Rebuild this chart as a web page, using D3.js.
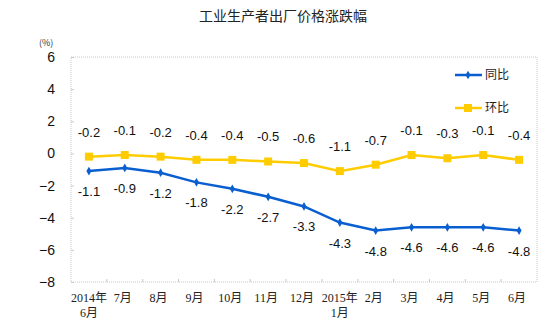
<!DOCTYPE html>
<html><head><meta charset="utf-8">
<script src="https://cdn.jsdelivr.net/npm/d3@7"></script>
<style>body{margin:0;background:#fff;}svg{display:block;}</style>
</head><body>
<svg id="c" width="554" height="324"></svg>
<script>
const categories = ["2014年|6月","7月","8月","9月","10月","11月","12月","2015年|1月","2月","3月","4月","5月","6月"];
const yoy = [-1.1,-0.9,-1.2,-1.8,-2.2,-2.7,-3.3,-4.3,-4.8,-4.6,-4.6,-4.6,-4.8];
const mom = [-0.2,-0.1,-0.2,-0.4,-0.4,-0.5,-0.6,-1.1,-0.7,-0.1,-0.3,-0.1,-0.4];
const yTicks = [6,4,2,0,-2,-4,-6,-8];
const seriesNames = ["同比","环比"];

const svg = d3.select("#c");
const L=71,R=537,T=57,B=282;
const x = d3.scaleBand().domain(categories).range([L,R]);
const y = d3.scaleLinear().domain([-8,6]).range([B,T]);
const cx = d => x(d)+x.bandwidth()/2;
const blue="#0a5fd0", yellow="#ffcc00";
const numFont="Arial, 'Liberation Sans', sans-serif";
const cjk="'SimSun','Liberation Serif','Noto Sans CJK SC',serif";

svg.append("text").attr("x",283).attr("y",21).attr("text-anchor","middle")
  .attr("font-family","'Noto Sans CJK SC',sans-serif").attr("font-size",14).attr("fill","#222").text("工业生产者出厂价格涨跌幅");
svg.append("text").attr("x",39).attr("y",46).attr("font-family","'Noto Sans CJK SC',sans-serif").attr("font-size",9).attr("fill","#333").text("(%)");

// frame
svg.append("rect").attr("x",L).attr("y",T).attr("width",R-L).attr("height",B-T)
  .attr("fill","none").attr("stroke","#c8c8c8").attr("stroke-dasharray","1,1");

// y axis
const ya = svg.append("g").attr("transform",`translate(${L},0)`)
  .call(d3.axisLeft(y).tickValues(yTicks).tickSize(-3).tickPadding(16).tickFormat(d3.format("d")));
ya.select(".domain").remove();
ya.selectAll("line").attr("stroke","#c8c8c8");
ya.selectAll("text").attr("font-family",numFont).attr("font-size",14).attr("fill","#111");

// x axis
const xa = svg.append("g").attr("transform",`translate(0,${B})`)
  .call(d3.axisBottom(x).tickSize(0).tickPadding(12).tickFormat(""));
xa.select(".domain").remove();
// category boundary ticks
svg.append("g").selectAll("line").data(categories.slice(1)).join("line")
  .attr("x1",d=>x(d)).attr("x2",d=>x(d)).attr("y1",B).attr("y2",B-3).attr("stroke","#c8c8c8");
xa.selectAll(".tick").each(function(d){
  const parts=d.split("|");
  const t=d3.select(this).append("text").attr("fill","#222").attr("font-family",cjk).attr("font-size",12)
    .attr("text-anchor","middle").attr("y",20);
  parts.forEach((p,i)=>t.append("tspan").attr("x",i? 0:(parts.length>1?0:-2)).attr("dy",i?15:0).text(p));
});

const line = d3.line().x((d,i)=>cx(categories[i])).y(d=>y(d));
// yoy
svg.append("path").datum(yoy).attr("d",line).attr("fill","none").attr("stroke",blue).attr("stroke-width",2.5);
svg.append("g").selectAll("path").data(yoy).join("path")
  .attr("d",d3.symbol(d3.symbolDiamond,22)).attr("transform",(d,i)=>`translate(${cx(categories[i])},${y(d)})`).attr("fill",blue);
// mom
svg.append("path").datum(mom).attr("d",line).attr("fill","none").attr("stroke",yellow).attr("stroke-width",2.5);
svg.append("g").selectAll("rect").data(mom).join("rect")
  .attr("x",(d,i)=>cx(categories[i])-4).attr("y",d=>y(d)-4).attr("width",8).attr("height",8).attr("fill",yellow);

// labels
svg.append("g").selectAll("text").data(yoy).join("text")
  .attr("x",(d,i)=>cx(categories[i])).attr("y",d=>y(d)+25).attr("text-anchor","middle")
  .attr("font-family",numFont).attr("font-size",13).attr("fill","#111").text(d=>d.toFixed(1));
svg.append("g").selectAll("text").data(mom).join("text")
  .attr("x",(d,i)=>cx(categories[i])).attr("y",d=>y(d)-20).attr("text-anchor","middle")
  .attr("font-family",numFont).attr("font-size",13).attr("fill","#111").text(d=>d.toFixed(1));

// legend
const lg = svg.append("g");
[[seriesNames[0],blue,75,"d"],[seriesNames[1],yellow,108,"s"]].forEach(([n,c,yy,m])=>{
  lg.append("line").attr("x1",455).attr("x2",482).attr("y1",yy).attr("y2",yy).attr("stroke",c).attr("stroke-width",2.5);
  if(m==="d") lg.append("path").attr("d",d3.symbol(d3.symbolDiamond,22)).attr("transform",`translate(468,${yy})`).attr("fill",c);
  else lg.append("rect").attr("x",464).attr("y",yy-4).attr("width",8).attr("height",8).attr("fill",c);
  lg.append("text").attr("x",485).attr("y",yy+4).attr("font-family","'Noto Sans CJK SC',sans-serif").attr("font-size",12).attr("fill","#222").text(n);
});
</script>
</body></html>
